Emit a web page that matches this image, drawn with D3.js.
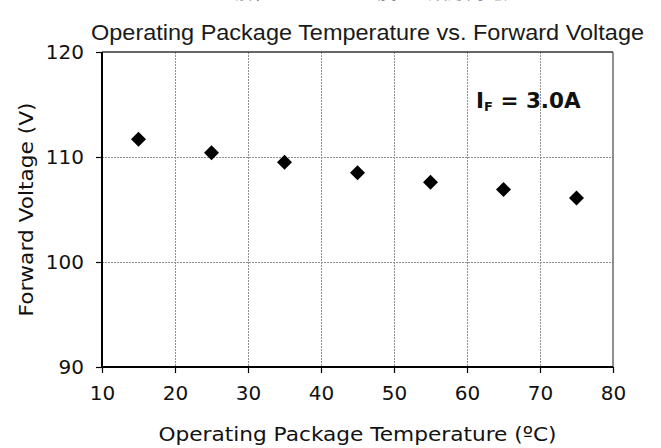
<!DOCTYPE html>
<html><head><meta charset="utf-8">
<script src="https://cdn.jsdelivr.net/npm/d3@7/dist/d3.min.js"></script>
<style>body{margin:0;background:#fff}svg{display:block}</style>
</head><body>
<script>
const temperatures = [15, 25, 35, 45, 55, 65, 75];
const forwardVoltage = [111.7, 110.4, 109.5, 108.5, 107.6, 106.9, 106.1];
const xTicks = [10, 20, 30, 40, 50, 60, 70, 80];
const yTicks = [90, 100, 110, 120];
const titleText = "Operating Package Temperature vs. Forward Voltage";
const jpTitleText = "動作パッケージ温度 vs. 順方向電圧";
const xLabelText = "Operating Package Temperature (ºC)";
const yLabelText = "Forward Voltage (V)";

const W = 661, H = 448;
const m = {left: 102, right: 661 - 613, top: 52, bottom: 448 - 367};
const svg = d3.select("body").append("svg").attr("width", W).attr("height", H);
const x = d3.scaleLinear().domain([10, 80]).range([m.left, W - m.right]);
const y = d3.scaleLinear().domain([90, 120]).range([H - m.bottom, m.top]);
const font = "DejaVu Sans, Verdana, sans-serif";

// partially visible Japanese title (cut off at top, as in the reference)
svg.append("text").attr("x", 375).attr("y", -1).attr("text-anchor", "middle")
  .attr("font-family", "Noto Sans CJK JP").attr("font-size", 20).attr("fill", "#444")
  .attr("textLength", 295).attr("lengthAdjust", "spacingAndGlyphs")
  .text(jpTitleText);

// title
svg.append("text").attr("x", 91).attr("y", 40)
  .attr("font-family", "Liberation Sans, Arial, sans-serif").attr("font-size", 22.5)
  .attr("textLength", 553).attr("lengthAdjust", "spacingAndGlyphs").attr("fill", "#1a1a1a")
  .text(titleText);

// grid
const grid = svg.append("g").attr("stroke", "#8f8f8f").attr("stroke-width", 1).attr("stroke-dasharray", "2,1");
grid.selectAll(".vx").data(xTicks.slice(1, -1)).join("line")
  .attr("x1", d => Math.round(x(d)) + 0.5).attr("x2", d => Math.round(x(d)) + 0.5)
  .attr("y1", y(120)).attr("y2", y(90));
grid.selectAll(".hy").data(yTicks.slice(1, -1)).join("line")
  .attr("y1", d => Math.round(y(d)) + 0.5).attr("y2", d => Math.round(y(d)) + 0.5)
  .attr("x1", x(10)).attr("x2", x(80));

// frame top/right
svg.append("line").attr("x1", x(10)).attr("x2", x(80)).attr("y1", y(120)).attr("y2", y(120))
  .attr("stroke", "#333").attr("stroke-width", 1.3);
svg.append("line").attr("x1", x(80)).attr("x2", x(80)).attr("y1", y(120)).attr("y2", y(90))
  .attr("stroke", "#555").attr("stroke-width", 1.3);

// axes
const xAxis = d3.axisBottom(x).tickValues(xTicks).tickSize(6).tickPadding(13).tickFormat(d3.format("d"));
const yAxis = d3.axisLeft(y).tickValues(yTicks).tickSize(6).tickPadding(12).tickFormat(d3.format("d"));
const gx = svg.append("g").attr("transform", `translate(0,${y(90)})`).call(xAxis);
const gy = svg.append("g").attr("transform", `translate(${x(10)},0)`).call(yAxis);
[gx, gy].forEach(g => {
  g.select(".domain").attr("stroke", "#000").attr("stroke-width", 2);
  g.selectAll(".tick line").attr("stroke", "#000").attr("stroke-width", 1.2);
  g.selectAll(".tick text").attr("font-family", font).attr("font-size", 20).attr("fill", "#111");
});
gx.select(".domain").attr("d", `M${x(10)},0H${x(80)}`);
gy.select(".domain").attr("d", `M0,${y(120)}V${y(90)}`);

// points
const pts = temperatures.map((t, i) => ({t, v: forwardVoltage[i]}));
svg.append("g").selectAll("path").data(pts).join("path")
  .attr("transform", d => `translate(${x(d.t)},${y(d.v)})`)
  .attr("d", "M0,-7.5L7.5,0L0,7.5L-7.5,0Z").attr("fill", "#000");

// annotation
const ann = svg.append("text").attr("x", 476).attr("y", 108).attr("font-family", font)
  .attr("font-weight", "bold").attr("font-size", 21.5).attr("fill", "#111");
ann.append("tspan").text("I");
ann.append("tspan").attr("font-size", 13).attr("dy", 3).text("F");
ann.append("tspan").attr("dy", -3).text(" = 3.0A");

// axis labels
svg.append("text").attr("x", (x(10) + x(80)) / 2).attr("y", 441).attr("text-anchor", "middle")
  .attr("font-family", font).attr("font-size", 20).attr("fill", "#111")
  .attr("textLength", 398).attr("lengthAdjust", "spacingAndGlyphs").text(xLabelText);
svg.append("text").attr("transform", `translate(33,${(y(90) + y(120)) / 2}) rotate(-90)`)
  .attr("text-anchor", "middle").attr("font-family", font).attr("font-size", 19).attr("fill", "#111")
  .attr("textLength", 214).attr("lengthAdjust", "spacingAndGlyphs").text(yLabelText);
</script>
</body></html>
